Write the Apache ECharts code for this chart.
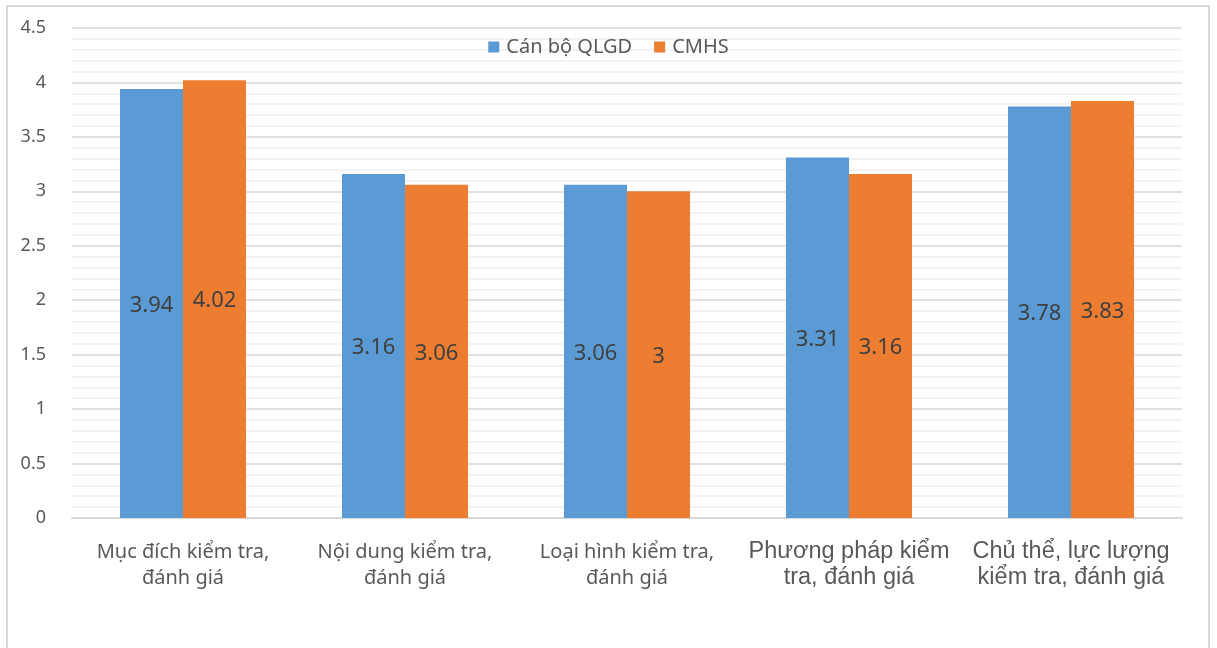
<!DOCTYPE html>
<html>
<head>
<meta charset="utf-8">
<script src="https://cdn.jsdelivr.net/npm/echarts@6/dist/echarts.min.js"></script>
<style>
  html, body { margin: 0; padding: 0; background: #ffffff; }
  #chart { width: 1217px; height: 648px; }
</style>
</head>
<body>
<div id="chart"></div>
<script>
// Categories (first three set in a humanist sans, last two in Arial-style)
const categories = [
  ['Mục đích kiểm tra,', 'đánh giá'],
  ['Nội dung kiểm tra,', 'đánh giá'],
  ['Loại hình kiểm tra,', 'đánh giá'],
  ['Phương pháp kiểm', 'tra, đánh giá'],
  ['Chủ thể, lực lượng', 'kiểm tra, đánh giá']
];
const categoryFont = ['a', 'a', 'a', 'b', 'b'];

const seriesNames = ['Cán bộ QLGD', 'CMHS'];
const canBoValues = [3.94, 3.16, 3.06, 3.31, 3.78];
const cmhsValues = [4.02, 3.06, 3.00, 3.16, 3.83];

const yTicks = [0, 0.5, 1, 1.5, 2, 2.5, 3, 3.5, 4, 4.5];

const chart = echarts.init(document.getElementById('chart'), null, { renderer: 'canvas' });

const labelStyle = {
  show: true,
  position: 'inside',
  offset: [0, 2],
  color: '#404040',
  fontSize: 22,
  fontFamily: 'Noto Sans',
  formatter: p => String(p.value)
};

chart.setOption({
  backgroundColor: '#ffffff',
  animation: false,
  graphic: [{
    type: 'rect',
    shape: { x: 7, y: 6, width: 1202, height: 700 },
    style: { fill: 'none', stroke: '#d9d9d9', lineWidth: 2 },
    silent: true
  }],
  legend: {
    top: 32,
    left: 'center',
    itemWidth: 11,
    itemHeight: 11,
    itemGap: 22,
    icon: 'rect',
    textStyle: { color: '#595959', fontSize: 20, fontFamily: 'Noto Sans', padding: [0, 0, 0, 2] },
    data: seriesNames
  },
  grid: { left: 72, right: 35, top: 28, bottom: 130 },
  xAxis: {
    type: 'category',
    data: categories.map(c => c.join('\n')),
    axisLine: { show: true, lineStyle: { color: '#d9d9d9', width: 2 } },
    axisTick: { show: false },
    axisLabel: {
      margin: 21,
      interval: 0,
      formatter: (val, idx) => {
        const k = categoryFont[idx];
        return categories[idx].map(line => '{' + k + '|' + line + '}').join('\n');
      },
      rich: {
        a: { fontFamily: 'Noto Sans', fontSize: 20, color: '#595959', lineHeight: 26 },
        b: { fontFamily: 'Liberation Sans', fontSize: 23.5, color: '#595959', lineHeight: 26 }
      }
    }
  },
  yAxis: {
    type: 'value',
    min: 0,
    max: 4.5,
    interval: 0.5,
    axisLine: { show: false },
    axisTick: { show: false },
    axisLabel: {
      color: '#595959',
      fontSize: 18,
      fontFamily: 'Noto Sans',
      margin: 26,
      formatter: v => {
        const t = yTicks.find(x => Math.abs(x - v) < 1e-9);
        return t === undefined ? '' : String(t);
      }
    },
    splitLine: { show: true, lineStyle: { color: '#d9d9d9', width: 1.5 } },
    minorTick: { show: false, splitNumber: 5 },
    minorSplitLine: { show: true, lineStyle: { color: '#f0f0f0', width: 1.5 } }
  },
  series: [
    {
      name: seriesNames[0],
      type: 'bar',
      data: canBoValues,
      barWidth: 63,
      barGap: '0%',
      itemStyle: { color: '#5b9bd5' },
      label: labelStyle
    },
    {
      name: seriesNames[1],
      type: 'bar',
      data: cmhsValues,
      barWidth: 63,
      barGap: '0%',
      itemStyle: { color: '#ed7d31' },
      label: labelStyle
    }
  ]
});
</script>
</body>
</html>
